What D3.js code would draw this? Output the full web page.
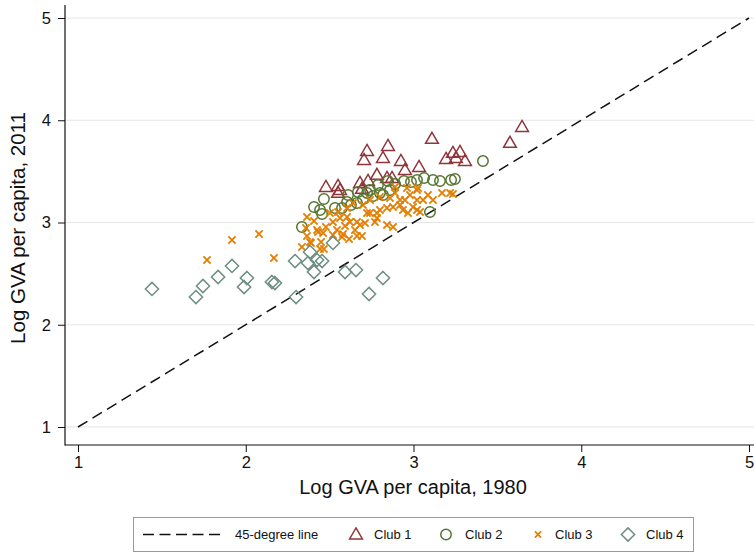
<!DOCTYPE html>
<html>
<head>
<meta charset="utf-8">
<script src="https://cdn.jsdelivr.net/npm/d3@7"></script>
<style>
body { margin: 0; background: #fff; }
text { font-family: Arial, "Liberation Sans", sans-serif; fill: #111; }
</style>
</head>
<body>
<svg id="chart" width="754" height="554"></svg>
<script>
'use strict';

// log GVA per capita, 1980 (x) and 2011 (y), one pair of arrays per club
var club1X = [3.110, 2.848, 2.723, 2.705, 2.818, 2.925, 2.949, 3.033, 3.194, 3.235, 3.277, 3.253, 3.307,
	3.575, 3.647, 2.782, 2.842, 2.872, 2.681, 2.729, 2.693, 2.478, 2.550, 2.562, 2.550];
var club1Y = [3.817, 3.748, 3.699, 3.611, 3.631, 3.601, 3.513, 3.543, 3.621, 3.680, 3.689, 3.631, 3.601,
	3.778, 3.934, 3.465, 3.435, 3.435, 3.386, 3.406, 3.328, 3.347, 3.357, 3.318, 3.289];

var club2X = [3.414, 3.247, 3.224, 3.158, 3.116, 3.063, 3.021, 2.985, 2.943, 2.890, 2.848, 2.788, 2.723,
	2.759, 2.800, 2.818, 2.699, 2.610, 2.604, 2.627, 2.532, 2.466, 2.407, 2.443, 2.455, 2.335, 3.098,
	2.663, 2.574, 2.860, 2.741, 2.669];
var club2Y = [3.601, 3.425, 3.416, 3.406, 3.416, 3.435, 3.416, 3.396, 3.406, 3.377, 3.406, 3.367, 3.289,
	3.259, 3.289, 3.269, 3.230, 3.269, 3.200, 3.171, 3.142, 3.230, 3.152, 3.122, 3.083, 2.956, 3.103,
	3.191, 3.142, 3.318, 3.318, 3.298];

var club3X = [1.769, 1.918, 2.079, 2.168, 2.365, 2.407, 2.365, 2.335, 2.383, 2.431, 2.443, 2.425, 2.389,
	2.449, 2.466, 2.502, 2.520, 2.562, 2.604, 2.544, 2.574, 2.520, 2.621, 2.663, 2.681, 2.711, 2.663,
	2.741, 2.782, 2.770, 2.842, 2.878, 2.800, 2.842, 2.878, 2.920, 2.890, 2.890, 2.920, 2.937, 2.967,
	3.021, 3.021, 3.021, 3.057, 3.086, 3.116, 3.170, 3.218, 3.235, 2.741, 2.699, 2.639, 2.604, 2.550,
	2.800, 2.860, 2.782, 2.723, 3.027, 2.979, 2.949, 2.997, 3.039, 2.961, 2.461, 2.580, 2.616, 2.693,
	2.359, 2.478, 2.592, 2.651];
var club3Y = [2.633, 2.829, 2.888, 2.653, 3.054, 3.015, 2.868, 2.760, 2.809, 2.907, 2.741, 2.927, 2.800,
	2.809, 2.741, 3.093, 3.005, 3.044, 3.054, 2.927, 2.858, 2.878, 3.005, 3.005, 2.976, 2.995, 2.868,
	3.093, 3.093, 3.005, 2.976, 2.956, 3.122, 3.142, 3.152, 3.171, 3.289, 3.347, 3.220, 3.122, 3.093,
	3.220, 3.318, 3.122, 3.220, 3.269, 3.220, 3.289, 3.289, 3.279, 3.220, 3.171, 3.191, 3.142, 3.103,
	3.249, 3.240, 3.044, 3.093, 3.337, 3.269, 3.220, 3.152, 3.103, 3.337, 2.897, 2.888, 2.839, 2.868,
	2.946, 2.956, 2.966, 2.927];

var club4X = [1.441, 1.703, 1.745, 1.835, 1.918, 2.007, 1.990, 2.156, 2.174, 2.300, 2.294, 2.383, 2.371,
	2.425, 2.455, 2.407, 2.520, 2.592, 2.657, 2.818, 2.735];
var club4Y = [2.350, 2.271, 2.379, 2.467, 2.575, 2.457, 2.369, 2.418, 2.408, 2.271, 2.623, 2.711, 2.604,
	2.633, 2.623, 2.516, 2.800, 2.516, 2.535, 2.457, 2.301];

var xTicks = [1, 2, 3, 4, 5];
var yTicks = [1, 2, 3, 4, 5];
var lineEnds = [1, 5];
var legendLabels = ["45-degree line", "Club 1", "Club 2", "Club 3", "Club 4"];
var clubColors = ["#90353b", "#55752f", "#e37e00", "#6e8e84"];

var svg = d3.select("#chart");
var axisLeftPos = 65, axisBottomPos = 445;

var x = d3.scaleLinear().domain([1, 5]).range([78, 749]);
var y = d3.scaleLinear().domain([1, 5]).range([427, 18]);

// marker shapes, Stata style hollow symbols
function markerPath(k) {
	if (k == 0) return "M0,-6.6L6.4,4.4L-6.4,4.4Z";
	if (k == 1) return d3.symbol(d3.symbolCircle, 86)();
	if (k == 2) return "M-3.6,-3.6L3.6,3.6M-3.6,3.6L3.6,-3.6";
	return "M0,-6.6L6.6,0L0,6.6L-6.6,0Z";
}

// gridlines
svg.append("g").selectAll("line")
	.data(yTicks)
	.enter().append("line")
	.attr("x1", axisLeftPos).attr("x2", 754)
	.attr("y1", function(d) { return y(d); })
	.attr("y2", function(d) { return y(d); })
	.attr("stroke", "#e6e6e6")
	.attr("stroke-width", 1.2);

// axes
var yAxis = d3.axisLeft(y).tickValues(yTicks).tickFormat(d3.format("d"))
	.tickSize(7).tickPadding(7).tickSizeOuter(0);
var xAxis = d3.axisBottom(x).tickValues(xTicks).tickFormat(d3.format("d"))
	.tickSize(7).tickPadding(4).tickSizeOuter(0);

var gy = svg.append("g")
	.attr("transform", "translate(" + axisLeftPos + ",0)")
	.call(yAxis);
var gx = svg.append("g")
	.attr("transform", "translate(0," + axisBottomPos + ")")
	.call(xAxis);
[gx, gy].forEach(function(g) {
	g.select(".domain").remove();
	g.selectAll(".tick line").attr("stroke", "#111").attr("stroke-width", 1);
	g.selectAll(".tick text").attr("font-size", 16.5).attr("fill", "#111")
		.style("font-family", "Arial, 'Liberation Sans', sans-serif");
});
svg.append("line")
	.attr("x1", axisLeftPos).attr("x2", axisLeftPos)
	.attr("y1", 5).attr("y2", axisBottomPos + 0.5)
	.attr("stroke", "#111").attr("stroke-width", 1.2);
svg.append("line")
	.attr("x1", axisLeftPos).attr("x2", 754)
	.attr("y1", axisBottomPos).attr("y2", axisBottomPos)
	.attr("stroke", "#111").attr("stroke-width", 1.2);

// axis titles
svg.append("text")
	.attr("x", 413).attr("y", 494)
	.attr("text-anchor", "middle")
	.attr("font-size", 20)
	.text("Log GVA per capita, 1980");
svg.append("text")
	.attr("transform", "translate(25,228) rotate(-90)")
	.attr("text-anchor", "middle")
	.attr("font-size", 20.5)
	.text("Log GVA per capita, 2011");

// 45 degree line
svg.append("line")
	.attr("x1", x(lineEnds[0])).attr("y1", y(lineEnds[0]))
	.attr("x2", x(lineEnds[1])).attr("y2", y(lineEnds[1]))
	.attr("stroke", "#111")
	.attr("stroke-width", 1.5)
	.attr("stroke-dasharray", "11,6");

// points
var clubs = [[club1X, club1Y], [club2X, club2Y], [club3X, club3Y], [club4X, club4Y]];
clubs.forEach(function(c, k) {
	var pts = c[0].map(function(v, i) { return {x: v, y: c[1][i]}; });
	svg.append("g").selectAll("path")
		.data(pts)
		.enter().append("path")
		.attr("transform", function(d) { return "translate(" + x(d.x) + "," + y(d.y) + ")"; })
		.attr("d", markerPath(k))
		.attr("fill", "none")
		.attr("stroke", clubColors[k])
		.attr("stroke-width", k == 2 ? 1.8 : 1.5);
});

// legend
var legend = svg.append("g");
legend.append("rect")
	.attr("x", 133.5).attr("y", 517.5)
	.attr("width", 560).attr("height", 34)
	.attr("fill", "#fff")
	.attr("stroke", "#999");
var ly = 534.5;
legend.append("line")
	.attr("x1", 143).attr("x2", 220)
	.attr("y1", ly).attr("y2", ly)
	.attr("stroke", "#111").attr("stroke-width", 1.5)
	.attr("stroke-dasharray", "11,5.5");
var symX = [356, 446, 538, 628];
var textX = [235, 374, 465, 555, 646];
symX.forEach(function(sx, k) {
	legend.append("path")
		.attr("transform", "translate(" + sx + "," + ly + ")" + (k == 2 ? " scale(0.85)" : ""))
		.attr("d", markerPath(k))
		.attr("fill", "none")
		.attr("stroke", clubColors[k])
		.attr("stroke-width", k == 2 ? 2 : 1.5);
});
legend.selectAll("text.lab")
	.data(legendLabels)
	.enter().append("text")
	.attr("class", "lab")
	.attr("x", function(d, i) { return textX[i]; })
	.attr("y", ly)
	.attr("dy", "0.35em")
	.attr("font-size", 13)
	.text(function(d) { return d; });
</script>
</body>
</html>
